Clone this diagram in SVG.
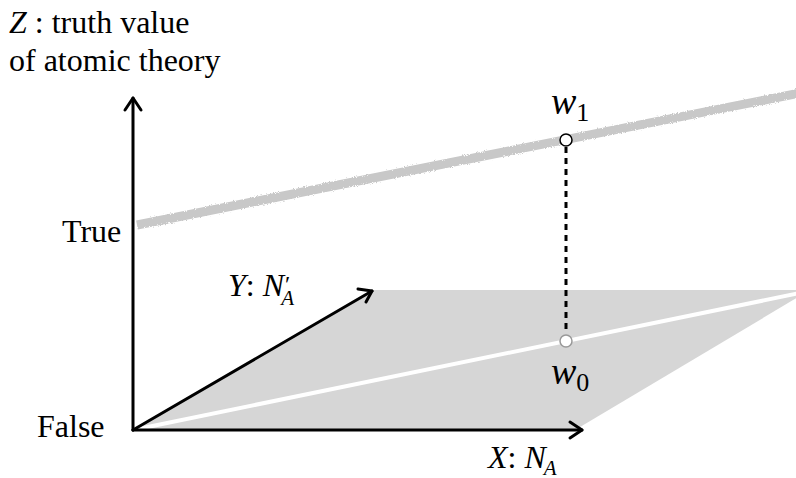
<svg xmlns="http://www.w3.org/2000/svg" width="796" height="478" viewBox="0 0 796 478">
<defs>
<style>
.t{font-family:"Liberation Serif","Times New Roman",serif;font-size:32px;fill:#000}
.i{font-style:italic}
.s{font-size:21px}
.w{font-size:38px}
.ax{stroke:#000;stroke-width:3;fill:none;stroke-linecap:round;stroke-linejoin:round}
</style>
<filter id="rough" x="-5%" y="-50%" width="110%" height="200%">
<feTurbulence type="fractalNoise" baseFrequency="0.9" numOctaves="2" seed="3"/>
<feDisplacementMap in="SourceGraphic" scale="3"/>
</filter>
</defs>
<g id="plane">
<polygon points="133,430 373,290 810,290 575,430" fill="#d6d6d6"/>
<line x1="133" y1="430" x2="800" y2="293" stroke="#fff" stroke-width="4"/>
</g>
<g id="truth-line">
<line x1="137" y1="225" x2="800" y2="93" stroke="#c8c8c8" stroke-width="9" filter="url(#rough)"/>
</g>
<g id="connectors">
<line x1="566" y1="147" x2="566" y2="334" stroke="#000" stroke-width="3" stroke-dasharray="6,5"/>
<g id="z-axis"><line class="ax" x1="133" y1="430" x2="133" y2="98"/><polyline class="ax" points="125,110 133,98 141,110"/></g>
<g id="x-axis"><line class="ax" x1="133" y1="430" x2="582" y2="430"/><polyline class="ax" points="570,422 582,430 570,438"/></g>
<g id="y-axis"><line class="ax" x1="133" y1="430" x2="372" y2="291"/><polyline class="ax" points="358,289 372,291 366,302"/></g>
</g>
<g id="w1">
<circle cx="566" cy="140" r="6" fill="#fff" stroke="#000" stroke-width="1.5"/>
<text class="t i w" x="551" y="114">w<tspan font-style="normal" style="font-size:26px" dy="7">1</tspan></text>
</g>
<g id="w0">
<circle cx="566" cy="341" r="6" fill="#fff" stroke="#999" stroke-width="1.5"/>
<text class="t i w" x="551" y="384">w<tspan font-style="normal" style="font-size:26px" dy="7">0</tspan></text>
</g>
<g id="labels">
<text class="t" x="9" y="33"><tspan class="i">Z</tspan> : truth value</text>
<text class="t" x="9" y="71">of atomic theory</text>
<text class="t" x="62" y="242">True</text>
<text class="t" x="37" y="437">False</text>
<text class="t" x="228" y="296"><tspan class="i">Y</tspan>: <tspan class="i">N</tspan><tspan style="font-size:24px" dx="1" dy="-4">′</tspan><tspan class="i s" dx="-9" dy="13">A</tspan></text>
<text class="t" x="488" y="468"><tspan class="i">X</tspan>: <tspan class="i">N</tspan><tspan class="i s" dx="-2" dy="7">A</tspan></text>
</g>
</svg>
